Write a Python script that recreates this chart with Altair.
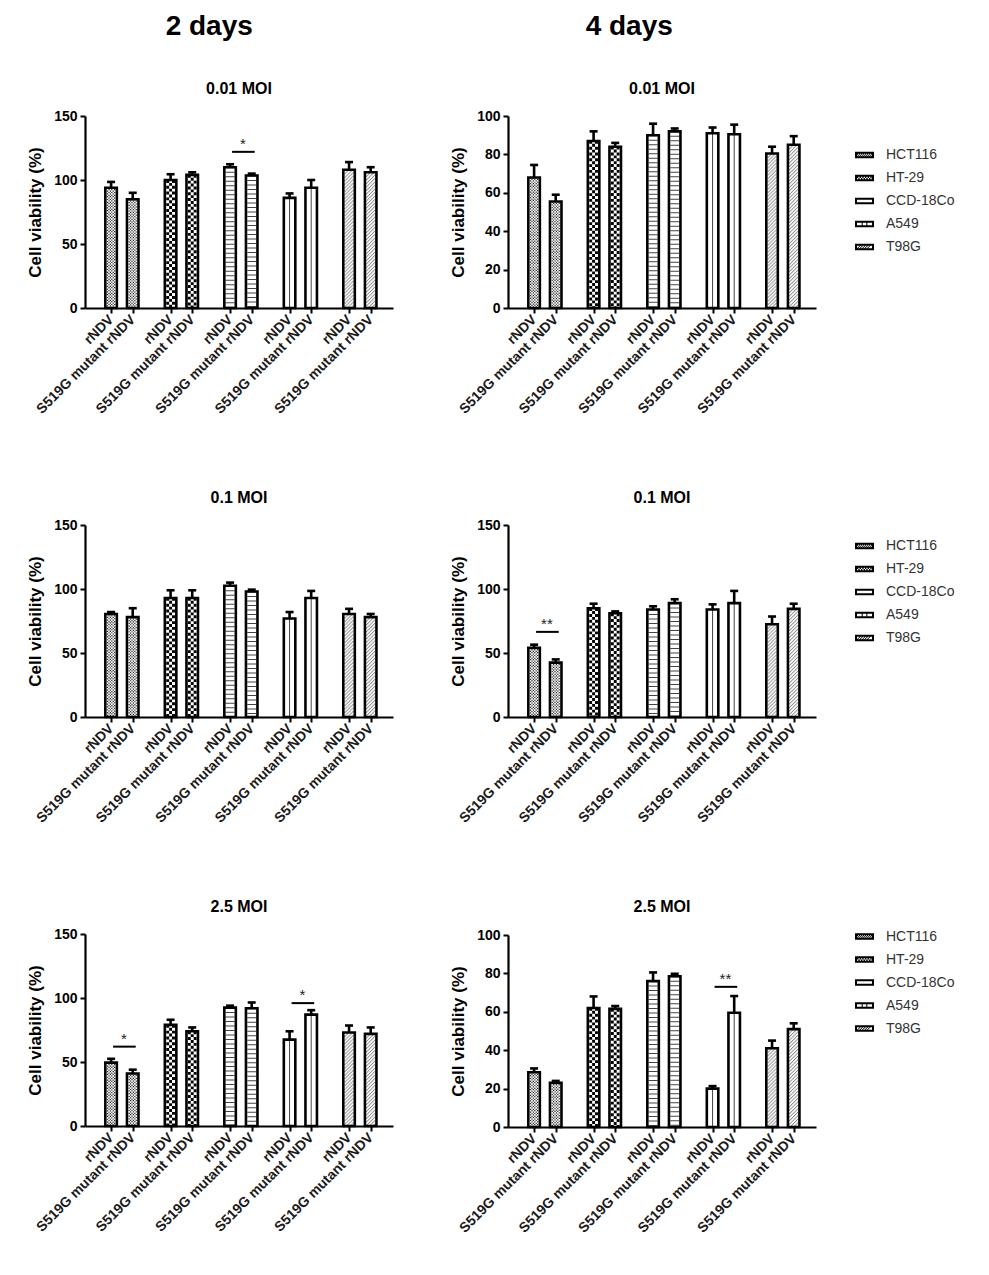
import altair as alt
import pandas as pd

FONT = "Liberation Sans"

cells = ["HCT116", "HT-29", "CCD-18Co", "A549", "T98G"]
viruses = ["rNDV", "S519G mutant rNDV"]

# values per panel: order = cell x virus (rNDV, mutant)
d2_001_mean = [94, 85, 100, 104, 110, 103.5, 86, 94, 108, 106]
d2_001_err = [4.5, 5, 4.5, 2, 2.3, 1.5, 3.5, 6, 6, 4]
d4_001_mean = [68, 55.5, 87, 84, 90, 92, 91, 90.5, 80.5, 85]
d4_001_err = [6.5, 3.5, 5, 2, 6, 1.5, 3, 5, 3.5, 4.5]
d2_01_mean = [80.5, 78, 93, 93, 102.5, 98, 77, 93, 80.5, 78]
d2_01_err = [1.5, 7, 6, 6, 2.5, 1.5, 5, 5.5, 4, 2.5]
d4_01_mean = [54, 42.5, 85, 81, 84, 89, 84, 89, 72.5, 84.5]
d4_01_err = [2.5, 2.5, 3.5, 1.5, 2.5, 3, 4, 9.5, 6, 4]
d2_25_mean = [49.5, 41, 79, 74, 92.5, 92, 67.5, 87, 73, 72]
d2_25_err = [3, 3, 4, 3, 1.5, 4.5, 6.5, 3.5, 5.5, 5]
d4_25_mean = [28.5, 23, 62, 61.5, 76, 78.5, 20, 59.5, 41, 51]
d4_25_err = [2, 1, 6, 1.5, 4.5, 1.3, 1.3, 8.7, 4, 3]

# significance brackets
sig_panel = ["d2_001", "d4_01", "d2_25", "d2_25", "d4_25"]
sig_cell = ["CCD-18Co", "HCT116", "HCT116", "A549", "A549"]
sig_y = [122, 66.5, 62, 96, 73]
sig_text = ["*", "**", "*", "*", "**"]

panels = {
    "d2_001": ("0.01 MOI", d2_001_mean, d2_001_err, 150, 50),
    "d4_001": ("0.01 MOI", d4_001_mean, d4_001_err, 100, 20),
    "d2_01": ("0.1 MOI", d2_01_mean, d2_01_err, 150, 50),
    "d4_01": ("0.1 MOI", d4_01_mean, d4_01_err, 150, 50),
    "d2_25": ("2.5 MOI", d2_25_mean, d2_25_err, 150, 50),
    "d4_25": ("2.5 MOI", d4_25_mean, d4_25_err, 100, 20),
}

# ---- styling constants ----
W, H = 308, 192
BW = 11.5
SW = 2.6
GROUP_STEP = 11
PAIR_STEP = 4
tick_pos = [g * GROUP_STEP + v * PAIR_STEP for g in range(len(cells)) for v in range(len(viruses))]
LEGEND_Y = {"d4_001": 29.5, "d4_01": 11.5, "d4_25": -8}

# pattern styles drawn with dashed rules: (pixel dx, stroke width, dash, dash offset, color)
PATTERNS = {
    "HCT116": [(dx, 1.2, [1.2, 1.6], (i % 2) * 1.4, "#222")
               for i, dx in enumerate([-3.5, -2.1, -0.7, 0.7, 2.1, 3.5])],
    "HT-29": [(dx, 2.9, [2.9, 2.9], (i % 2) * 2.9, "black")
              for i, dx in enumerate([-2.9, 0, 2.9])],
    "CCD-18Co": [(0, 8.9, [1, 3.5], 0, "#444")],
    "A549": [(0, 1, None, 0, "#444")],
    "T98G": [(i, 1, [1, 2.5], ((i + 4) * 1.0) % 3.5, "#666") for i in range(-4, 5)],
}


def rect(x0, y0, x1, y1):
    return f"M{x0:.3f},{y0:.3f}H{x1:.3f}V{y1:.3f}H{x0:.3f}Z"


IX0, IX1, IY0, IY1 = -0.79, 0.79, -0.14, 0.14
RING = rect(-1, -0.35, 1, 0.35) + f"M{IX0},{IY0}V{IY1}H{IX1}V{IY0}Z"


def checker(c):
    p = ""
    nr = max(1, int(round((IY1 - IY0) / c)))
    nc = int((IX1 - IX0) / c) + 1
    for r in range(nr):
        for k in range(nc):
            if (r + k) % 2 == 0:
                x0 = IX0 + k * c
                x1 = min(IX0 + (k + 1) * c, IX1)
                if x1 > x0:
                    p += rect(x0, IY0 + r * c, x1, min(IY0 + (r + 1) * c, IY1))
    return p


def hatch():
    p = ""
    x = IX0
    h = IY1 - IY0
    while x + h + 0.11 <= IX1 + 0.001:
        p += (f"M{x:.3f},{IY1}L{x + h:.3f},{IY0}L{x + h + 0.11:.3f},{IY0}"
              f"L{x + 0.11:.3f},{IY1}Z")
        x += 0.26
    return p


SWATCHES = [
    RING + checker(0.105),
    RING + checker(0.14),
    RING,
    RING + rect(-0.3, IY0, -0.19, IY1) + rect(0.19, IY0, 0.3, IY1),
    RING + hatch(),
]

xs = alt.Scale(domain=[-3.9, 51.2], nice=False, zero=False)
xaxis = alt.Axis(
    values=tick_pos,
    labelExpr="datum.value % 11 == 0 ? 'rNDV' : 'S519G mutant rNDV'",
    labelAngle=315, labelAlign="right", labelBaseline="middle",
    labelFontSize=14, labelFontWeight="bold", labelColor="#1a1a1a",
    labelPadding=4, labelOverlap=False, labelFlush=False, labelBound=False,
    tickSize=5, tickWidth=2, tickColor="black",
    domainWidth=2.2, domainColor="black", grid=False, title=None,
)


def X(field="pos"):
    return alt.X(f"{field}:Q", scale=xs, axis=xaxis)


def make_panel(key, legend):
    title, mean, err, ymax, ystep = panels[key]
    ys = alt.Scale(domain=[0, ymax], nice=False, zero=True)
    yaxis = alt.Axis(
        values=list(range(0, ymax + 1, ystep)),
        title="Cell viability (%)", titleFontSize=17, titleFontWeight="bold",
        titleColor="black", titlePadding=9,
        labelFontSize=14, labelFontWeight="bold", labelColor="black", labelPadding=3,
        tickSize=5, tickWidth=2, tickColor="black",
        domainWidth=2.2, domainColor="black", grid=False,
    )

    def Y(field):
        return alt.Y(f"{field}:Q", scale=ys, axis=yaxis)

    df = pd.DataFrame({
        "cell": [c for c in cells for v in viruses],
        "virus": [v for c in cells for v in viruses],
        "gi": [g for g in range(len(cells)) for v in viruses],
        "vi": [k for c in cells for k in range(len(viruses))],
        "value": mean,
        "err": err,
    })
    base = alt.Chart(df).transform_calculate(
        pos=f"datum.gi * {GROUP_STEP} + datum.vi * {PAIR_STEP}",
        top="datum.value + datum.err",
        lo="0",
    )
    layers = [
        base.mark_bar(width=BW, fill="white", strokeWidth=0, orient="vertical").encode(
            x=X(), y=Y("value"), y2=alt.Y2("lo:Q"))
    ]
    for cell, specs in PATTERNS.items():
        sub = base.transform_filter(alt.datum.cell == cell)
        for dx, w, dash, off, col in specs:
            kw = dict(xOffset=dx, strokeWidth=w, color=col, strokeCap="butt")
            if dash:
                kw["strokeDash"] = dash
                kw["strokeDashOffset"] = off
            layers.append(sub.mark_rule(**kw).encode(x=X(), y=Y("value"), y2=alt.Y2("lo:Q")))
    layers += [
        base.mark_bar(width=BW, fillOpacity=0, stroke="black", strokeWidth=SW,
                      orient="vertical").encode(x=X(), y=Y("value"), y2=alt.Y2("lo:Q")),
        base.mark_rule(strokeWidth=SW, color="black").encode(
            x=X(), y=Y("value"), y2=alt.Y2("top:Q")),
        base.mark_rule(strokeWidth=SW, color="black", xOffset=-4, x2Offset=4).encode(
            x=X(), x2=alt.X2("pos:Q"), y=Y("top")),
    ]
    rows = [i for i, p in enumerate(sig_panel) if p == key]
    if rows:
        sdf = pd.DataFrame({
            "gi": [cells.index(sig_cell[i]) for i in rows],
            "y": [sig_y[i] for i in rows],
            "label": [sig_text[i] for i in rows],
        })
        sb = alt.Chart(sdf).transform_calculate(
            xa=f"datum.gi * {GROUP_STEP}",
            xb=f"datum.gi * {GROUP_STEP} + {PAIR_STEP}",
            mid=f"datum.gi * {GROUP_STEP} + {PAIR_STEP / 2}",
        )
        layers += [
            sb.mark_rule(strokeWidth=2, color="black", xOffset=2, x2Offset=3).encode(
                x=X("xa"), x2=alt.X2("xb:Q"), y=Y("y")),
            sb.mark_text(fontSize=15, font=FONT, baseline="alphabetic", dy=-3, dx=2,
                         color="#222").encode(x=X("mid"), y=Y("y"), text="label:N"),
        ]
    if legend:
        layers.append(
            base.mark_point(filled=True, color="black", opacity=0).encode(
                x=X(), y=Y("value"),
                shape=alt.Shape("cell:N", scale=alt.Scale(domain=cells, range=SWATCHES),
                                legend=alt.Legend(
                                    title=None, orient="none", legendX=347,
                                    legendY=LEGEND_Y[key], padding=0,
                                    symbolSize=361, symbolOpacity=1, symbolStrokeWidth=0,
                                    symbolFillColor="black",
                                    labelFontSize=14, labelFont=FONT, labelColor="#333",
                                    labelOffset=12, rowPadding=6,
                                )))
        )
    return alt.layer(*layers).properties(
        width=W, height=H,
        title=alt.TitleParams(title, fontSize=16, fontWeight="bold", offset=12.5,
                              anchor="middle", frame="group", color="black"),
    ).resolve_legend(shape="independent")


left = alt.vconcat(
    *[make_panel(k, False) for k in ["d2_001", "d2_01", "d2_25"]],
    spacing=72,
    title=alt.TitleParams("2 days", fontSize=28, fontWeight="bold", offset=40,
                          anchor="start", dx=139, color="black"),
)
right = alt.vconcat(
    *[make_panel(k, True) for k in ["d4_001", "d4_01", "d4_25"]],
    spacing=72,
    title=alt.TitleParams("4 days", fontSize=28, fontWeight="bold", offset=40,
                          anchor="start", dx=136, color="black"),
).resolve_scale(shape="independent").resolve_legend(shape="independent")

chart = alt.hconcat(left, right, spacing=56).properties(
    padding={"left": 18, "top": 4, "right": 5, "bottom": 5}
).resolve_scale(shape="independent").resolve_legend(shape="independent").configure_view(
    stroke=None
).configure_axis(
    labelFont=FONT, titleFont=FONT
).configure_title(font=FONT, subtitleFont=FONT).configure_legend(labelFont=FONT)

chart.save("out.html", embed_options={"renderer": "svg", "actions": False})
